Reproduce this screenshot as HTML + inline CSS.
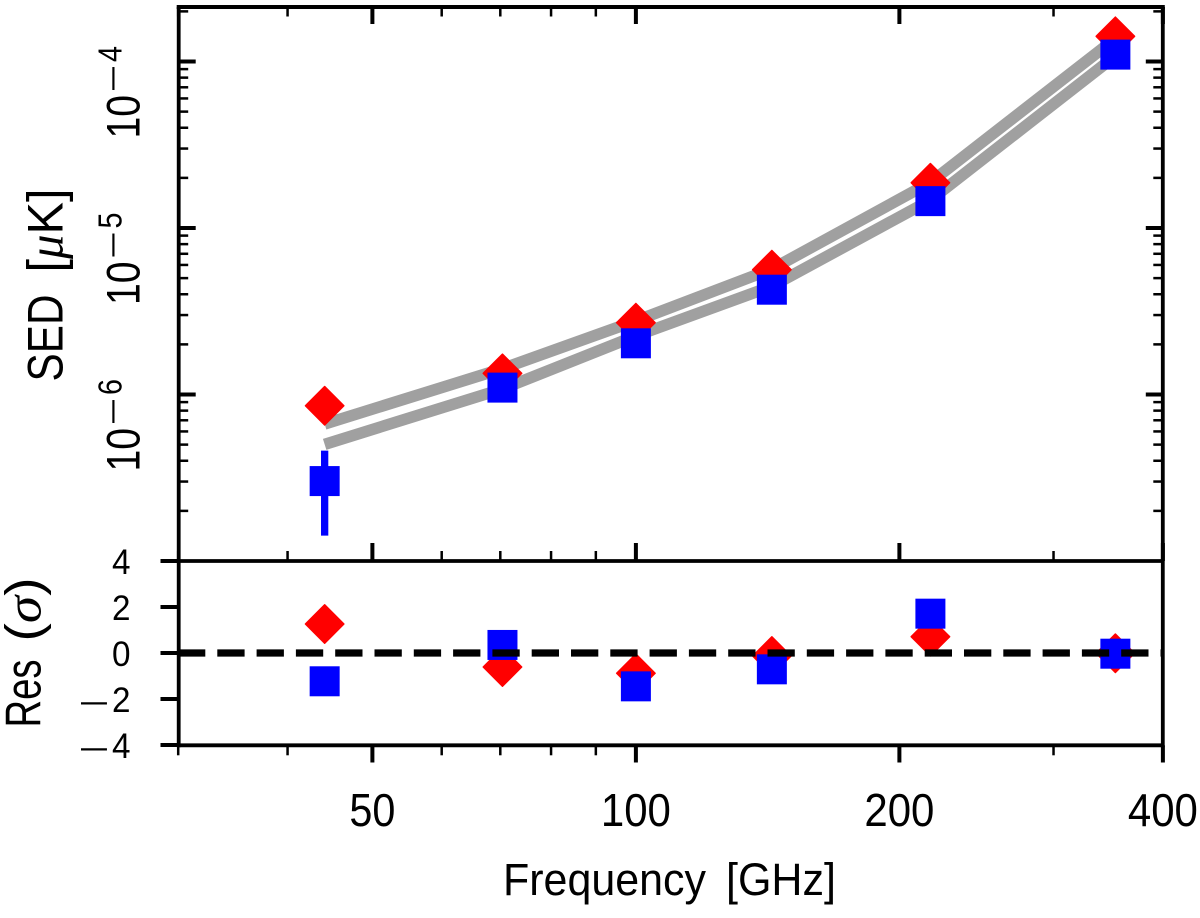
<!DOCTYPE html>
<html>
<head>
<meta charset="utf-8">
<title>SED and residuals</title>
<style>
html,body{margin:0;padding:0;background:#fff;}
svg{display:block;}
text{font-family:"Liberation Sans","DejaVu Sans",sans-serif;fill:#000;}
.greek{font-family:"Liberation Serif","DejaVu Serif",serif;font-style:italic;}
</style>
</head>
<body>
<svg id="chart" xmlns="http://www.w3.org/2000/svg" width="1200" height="918" viewBox="0 0 1200 918">
  <rect x="0" y="0" width="1200" height="918" fill="#fff"></rect>
  <g id="marks"></g>
  <g id="axes"></g>
  <g id="labels"></g>
  <g>
    <text x="503" y="895" font-size="45" textLength="203" lengthAdjust="spacingAndGlyphs">Frequency</text>
    <text x="726" y="895" font-size="45" textLength="110" lengthAdjust="spacingAndGlyphs">[GHz]</text>
  </g>
  <g transform="translate(62.5,381.5) rotate(-90)">
    <text x="0" y="0" font-size="50" textLength="87" lengthAdjust="spacingAndGlyphs">SED</text>
    <text x="109" y="0" font-size="50" textLength="84" lengthAdjust="spacingAndGlyphs">[<tspan class="greek">μ</tspan>K]</text>
  </g>
  <g transform="translate(40.5,727.5) rotate(-90)">
    <text x="0" y="0" font-size="50" textLength="68" lengthAdjust="spacingAndGlyphs">Res</text>
    <text x="86" y="0" font-size="50" textLength="64" lengthAdjust="spacingAndGlyphs">(<tspan class="greek">σ</tspan>)</text>
  </g>
</svg>
<script>
const frequencies = [44.1, 70.4, 100, 143, 217, 353];
const redSed = [8.56e-7, 1.34e-6, 2.70e-6, 5.62e-6, 1.87e-5, 1.417e-4];
const blueSed = [3.02e-7, 1.10e-6, 2.03e-6, 4.26e-6, 1.45e-5, 1.10e-4];
const blueErrLow = [1.42e-7, 1.05e-6, 1.98e-6, 4.2e-6, 1.42e-5, 1.08e-4];
const blueErrHigh = [4.60e-7, 1.15e-6, 2.08e-6, 4.32e-6, 1.48e-5, 1.12e-4];
const modelUpper = [6.65e-7, 1.43e-6, 2.77e-6, 5.67e-6, 1.88e-5, 1.373e-4];
const modelLower = [5.02e-7, 1.08e-6, 2.25e-6, 4.47e-6, 1.47e-5, 1.08e-4];
const redRes = [1.26, -0.61, -0.88, -0.13, 0.71, -0.01];
const blueRes = [-1.23, 0.35, -1.45, -0.71, 1.71, -0.03];
const xMajorTicks = [50, 100, 200, 400];
const xMajorLabels = ['50', '100', '200', '400'];
const xMinorTicks = [30, 40, 60, 70, 80, 90, 300];
const yMajorTicks = [1e-4, 1e-5, 1e-6];
const yMajorBase = ['10', '10', '10'];
const yMajorExponent = ['4', '5', '6'];
const yMinorMantissas = [2, 3, 4, 5, 6, 7, 8, 9];
const yMinorDecades = [-7, -6, -5, -4];
const resTicks = [4, 2, 0, -2, -4];

const NS = 'http://www.w3.org/2000/svg';
const X30 = 178.2, OCT = 263.5, Y_E6 = 394.5, DEC = 166.5, R0 = 653, RU = 23;
const L = 178.7, R = 1162.8, T = 7, M = 561, B = 745.3;
const xS = f => X30 + OCT * Math.log2(f / 30);
const yS = v => Y_E6 - DEC * (Math.log10(v) + 6);
const rS = r => R0 - RU * r;
const marks = document.getElementById('marks');
const axes = document.getElementById('axes');
const labels = document.getElementById('labels');

function seg(parent, x1, y1, x2, y2, w, color, name) {
  const el = document.createElementNS(NS, 'line');
  el.setAttribute('x1', x1);
  el.setAttribute('y1', y1);
  el.setAttribute('x2', x2);
  el.setAttribute('y2', y2);
  el.setAttribute('stroke', color);
  el.setAttribute('stroke-width', w);
  
  
  parent.appendChild(el);
  return el;
}
function curve(values, name) {
  const el = document.createElementNS(NS, 'polyline');
  el.setAttribute('points', values.map((v, i) => xS(frequencies[i]) + ',' + yS(v)).join(' '));
  el.setAttribute('fill', 'none');
  el.setAttribute('stroke', '#a0a0a0');
  el.setAttribute('stroke-width', 11.5);
  el.setAttribute('stroke-linejoin', 'round');
  
  
  marks.appendChild(el);
}
function diamond(cx, cy, name) {
  const h = 19.2;
  const el = document.createElementNS(NS, 'polygon');
  el.setAttribute('points', [cx, cy - h, cx + h, cy, cx, cy + h, cx - h, cy].join(','));
  el.setAttribute('fill', '#ff0000');
  el.setAttribute('stroke', '#ff0000');
  el.setAttribute('stroke-width', 1.5);
  el.setAttribute('stroke-linejoin', 'round');
  
  
  marks.appendChild(el);
}
function square(cx, cy, name) {
  const el = document.createElementNS(NS, 'rect');
  el.setAttribute('x', cx - 15);
  el.setAttribute('y', cy - 15);
  el.setAttribute('width', 30);
  el.setAttribute('height', 30);
  el.setAttribute('fill', '#0000ff');
  
  
  marks.appendChild(el);
}
function label(str, x, y, size, anchor, len, name, transform) {
  const el = document.createElementNS(NS, 'text');
  el.setAttribute('x', x);
  el.setAttribute('y', y);
  el.setAttribute('font-size', size);
  el.setAttribute('text-anchor', anchor);
  if (len) {
    el.setAttribute('textLength', len);
    el.setAttribute('lengthAdjust', 'spacingAndGlyphs');
  }
  if (transform) {
    el.setAttribute('transform', transform);
  }
  
  
  el.textContent = str;
  labels.appendChild(el);
}

/* upper panel series */
curve(modelUpper, 'model-curve-upper');
curve(modelLower, 'model-curve-lower');
frequencies.forEach((f, i) => seg(marks, xS(f), yS(blueErrLow[i]), xS(f), yS(blueErrHigh[i]), 7.3, '#0000ff', 'blue-error-bar'));
frequencies.forEach((f, i) => diamond(xS(f), yS(redSed[i]), 'red-sed-point'));
frequencies.forEach((f, i) => square(xS(f), yS(blueSed[i]), 'blue-sed-point'));

/* residual panel series */
frequencies.forEach((f, i) => diamond(xS(f), rS(redRes[i]), 'red-residual-point'));
frequencies.forEach((f, i) => square(xS(f), rS(blueRes[i]), 'blue-residual-point'));
const zero = seg(marks, L - 0.7, rS(0), R, rS(0), 7.3, '#000', 'zero-reference-line');
zero.setAttribute('stroke-dasharray', '27.3 12');

/* x ticks */
xMajorTicks.forEach((f, i) => {
  const x = xS(f);
  seg(axes, x, T, x, T + 17, 4, '#000', 'top-major-tick');
  seg(axes, x, M, x, M - 18, 4, '#000', 'mid-major-tick');
  seg(axes, x, B, x, 762.5, 4, '#000', 'x-major-tick');
  label(xMajorLabels[i], x, 826, 46, 'middle', xMajorLabels[i].length === 2 ? 46 : 70, 'x-tick-label');
});
xMinorTicks.forEach(f => {
  const x = xS(f);
  seg(axes, x, T, x, T + 9.5, 2.5, '#000', 'top-minor-tick');
  seg(axes, x, M, x, M - 10, 2.5, '#000', 'mid-minor-tick');
  seg(axes, x, B, x, 755.3, 2.5, '#000', 'x-minor-tick');
});

/* upper y ticks */
yMajorTicks.forEach((v, i) => {
  const y = yS(v);
  seg(axes, L, y, L + 17, y, 4, '#000', 'y-major-tick-left');
  seg(axes, R, y, R - 17, y, 4, '#000', 'y-major-tick-right');
  const t = 'rotate(-90 0 0)';
  label(yMajorBase[i], -(y + 77), 139.5, 47, 'start', 43.5, 'y-tick-label-base', t);
  label('–', -(y + 28.5), 121.7, 32, 'start', 23, 'y-tick-label-minus', t);
  label(yMajorExponent[i], -y - 0.5, 121.7, 33, 'start', 16, 'y-tick-label-exponent', t);
});
yMinorDecades.forEach(d => {
  yMinorMantissas.forEach(m => {
    const v = m * Math.pow(10, d);
    const y = yS(v);
    if (y < T + 1 || y > M - 1) { return; }
    seg(axes, L, y, L + 9.5, y, 2.5, '#000', 'y-minor-tick-left');
    seg(axes, R, y, R - 9.5, y, 2.5, '#000', 'y-minor-tick-right');
  });
});

/* residual y ticks */
resTicks.forEach(r => {
  const y = rS(r);
  seg(axes, 160.5, y, L, y, 4, '#000', 'residual-y-tick');
  label(String(Math.abs(r)), 130.5, y + 13, 35, 'end', 18.5, 'residual-y-tick-label');
  if (r < 0) {
    label('–', 81, y + 13, 34, 'start', 26, 'residual-y-tick-minus');
  }
});

/* spines */
seg(axes, L - 2, T, R + 2, T, 4, '#000', 'top-spine');
seg(axes, L, T, L, B + 2, 3.8, '#000', 'left-spine');
seg(axes, R, T, R, B + 2, 3.8, '#000', 'right-spine');
seg(axes, L, M, R, M, 3.8, '#000', 'panel-divider-spine');
seg(axes, L, B, R, B, 3.8, '#000', 'bottom-spine');
</script>
</body>
</html>
